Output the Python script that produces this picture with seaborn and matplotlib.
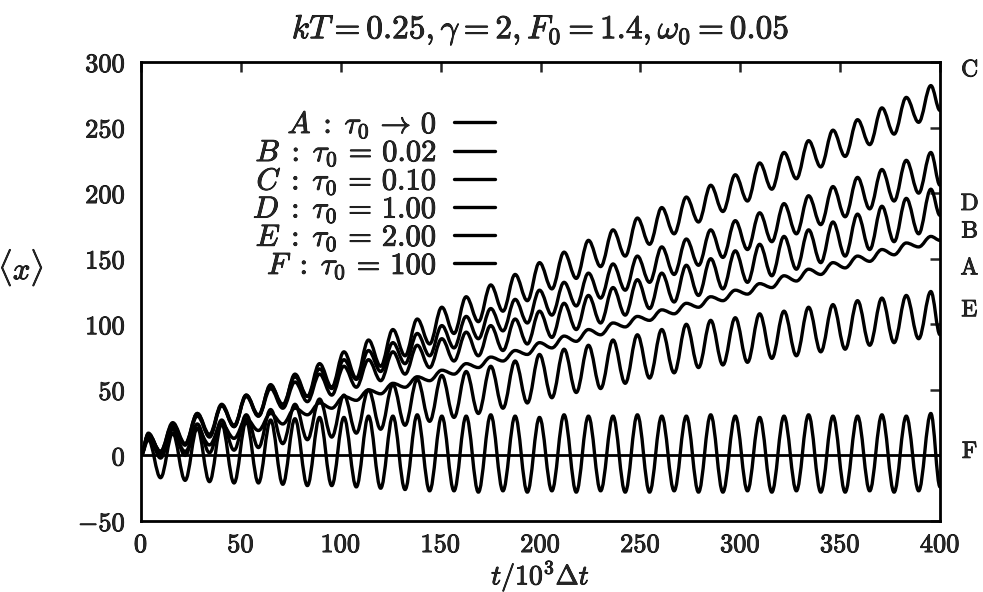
import numpy as np
import pandas as pd
import matplotlib
matplotlib.use("Agg")
import matplotlib.pyplot as plt
from matplotlib.lines import Line2D
from matplotlib.path import Path
from matplotlib.patches import PathPatch
import matplotlib.patheffects as pe
import seaborn as sns

# ---- data ----
curve_names = ["A", "B", "C", "D", "E", "F"]
legend_labels = [r"$A\;:\;\tau_0\,\rightarrow\,0$", r"$B\;:\;\tau_0\,=\,0.02$",
                 r"$C\;:\;\tau_0\,=\,0.10$", r"$D\;:\;\tau_0\,=\,1.00$",
                 r"$E\;:\;\tau_0\,=\,2.00$", r"$F\;:\;\tau_0\,=\,100$"]

# times of the oscillation maxima / minima (t / 10^3 dt)
peak_t = [3.7, 15.9, 28.2, 40.4, 52.7, 64.9, 77.1, 89.4, 101.6, 113.9, 126.1, 138.3,
          150.6, 162.8, 175.1, 187.3, 199.5, 211.8, 224.0, 236.3, 248.5, 260.7, 273.0,
          285.2, 297.5, 309.7, 321.9, 334.2, 346.4, 358.7, 370.9, 383.1, 395.4]
trough_t = [9.8, 22.1, 34.3, 46.6, 58.8, 71.0, 83.3, 95.5, 107.8, 120.0, 132.2, 144.5,
            156.7, 168.9, 181.2, 193.4, 205.7, 217.9, 230.1, 242.4, 254.6, 266.9, 279.1,
            291.3, 303.6, 315.8, 328.1, 340.3, 352.5, 364.8, 377.0, 389.3]
start_t = 0.0
end_t = 400.0

A_peaks = [14, 17, 20, 24, 28, 32, 36, 40, 45, 50, 55, 60, 65, 70, 75, 80, 86, 91, 96, 101,
           106, 111, 116, 121, 126, 131, 137, 142, 147, 152, 157, 162, 167]
A_troughs = [0, 3, 8, 13, 19, 24, 31, 36, 42, 47, 52, 57, 62, 67, 72, 77, 82, 87, 92, 98,
             103, 108, 113, 118, 123, 128, 133, 138, 143, 148, 153, 159]
A_end = 164

B_peaks = [16, 24, 32, 38, 45, 51, 56, 62, 68, 73, 79, 84, 89, 94, 99, 104, 110, 116, 122,
           128, 134, 139, 145, 150, 156, 161, 167, 172, 178, 184, 190, 196, 203]
B_troughs = [3, 8, 14, 22, 30, 36, 41, 46, 52, 57, 62, 67, 72, 76, 80, 85, 90, 96, 101, 107,
             112, 117, 122, 127, 132, 137, 142, 147, 152, 157, 163, 169]
B_end = 183

C_peaks = [17, 22, 30, 38, 46, 54, 62, 70, 79, 88, 96, 104, 113, 121, 130, 138, 147, 155,
           164, 172, 181, 189, 197, 206, 214, 223, 231, 240, 248, 256, 265, 273, 282]
C_troughs = [2, 8, 15, 22, 30, 37, 45, 52, 59, 68, 76, 85, 93, 102, 110, 118, 127, 135, 144,
             152, 161, 169, 178, 186, 194, 203, 211, 220, 228, 237, 245, 254]
C_end = 263

D_peaks = [16, 25, 32, 39, 46, 53, 60, 66, 73, 80, 86, 93, 99, 106, 112, 119, 126, 132, 139,
           146, 152, 159, 165, 172, 179, 185, 192, 198, 205, 212, 218, 225, 231]
D_troughs = [3, 9, 16, 23, 31, 39, 45, 51, 58, 64, 70, 76, 82, 89, 95, 101, 107, 114, 120,
             126, 132, 138, 145, 151, 157, 163, 169, 176, 182, 188, 194, 200]
D_end = 206

E_peaks = [16, 20, 24, 27, 31, 35, 39, 43, 46, 50, 54, 58, 61, 64, 68, 72, 77, 81, 84, 88,
           92, 96, 100, 103, 105, 108, 110, 113, 115, 118, 120, 122, 125]
E_troughs = [-2, 0, 2, 4, 6, 9, 12, 14, 17, 20, 23, 26, 29, 32, 36, 40, 44, 48, 51, 55, 59,
             63, 67, 69, 71, 74, 76, 79, 81, 84, 86, 89]
E_end = 92

F_peaks = [12, 17, 21, 24, 26, 27, 28, 29, 29, 30, 30, 31, 30, 30, 31, 30, 29, 31, 30, 30,
           31, 30, 30, 31, 30, 29, 30, 31, 30, 30, 31, 30, 32]
F_troughs = [-17, -19, -20, -21, -21, -22, -23, -23, -24, -25, -26, -27, -27, -28, -27, -28,
             -27, -28, -27, -28, -28, -27, -28, -28, -27, -28, -27, -28, -28, -27, -28, -27]
F_end = -24

# text labels at the right-hand end of the curves
end_label_names = ["C", "D", "B", "A", "E", "F"]
end_label_y = [294, 192, 171, 143, 111, 3]

xticks = [0, 50, 100, 150, 200, 250, 300, 350, 400]
yticks = [-50, 0, 50, 100, 150, 200, 250, 300]

series = {
    "A": (A_peaks, A_troughs, A_end),
    "B": (B_peaks, B_troughs, B_end),
    "C": (C_peaks, C_troughs, C_end),
    "D": (D_peaks, D_troughs, D_end),
    "E": (E_peaks, E_troughs, E_end),
    "F": (F_peaks, F_troughs, F_end),
}

rows = []
for name in curve_names:
    pk, tr, end = series[name]
    order = 0
    rows.append((name, order, start_t, 0.0)); order += 1
    for i in range(len(peak_t)):
        rows.append((name, order, peak_t[i], pk[i])); order += 1
        if i < len(trough_t):
            rows.append((name, order, trough_t[i], tr[i])); order += 1
    rows.append((name, order, end_t, end))
df = pd.DataFrame(rows, columns=["curve", "order", "t", "x"])

# ---- style ----
sns.set_style("white")
plt.rcParams["mathtext.fontset"] = "cm"
plt.rcParams["font.family"] = ["DejaVu Serif"]
heavy = [pe.withStroke(linewidth=0.6, foreground="black")]

fig = plt.figure(figsize=(9.83, 5.92), dpi=100)
ax = fig.add_axes([0.1434, 0.1199, 0.8129, 0.7754])

LW = 2.4
sns.lineplot(data=df, x="t", y="x", hue="curve", palette=["black"] * 6,
             sort=False, estimator=None, legend=False, linewidth=LW, ax=ax)

# render each extremum-to-extremum step as a smooth (cosine-like) Bezier segment
for line in list(ax.lines):
    xy = line.get_xydata()
    if len(xy) < 3:
        continue
    verts = [tuple(xy[0])]
    codes = [Path.MOVETO]
    for (x0, y0), (x1, y1) in zip(xy[:-1], xy[1:]):
        dx = x1 - x0
        verts += [(x0 + 0.37 * dx, y0), (x1 - 0.37 * dx, y1), (x1, y1)]
        codes += [Path.CURVE4] * 3
    ax.add_patch(PathPatch(Path(verts, codes), facecolor="none",
                           edgecolor=line.get_color(), linewidth=LW,
                           joinstyle="round", capstyle="round"))
    line.remove()

ax.axhline(0, color="black", linewidth=2.0)

ax.set_xlim(0, 400)
ax.set_ylim(-50, 300)
ax.set_xticks(xticks)
ax.set_yticks(yticks)
ax.set_xticklabels([rf"$\mathbf{{{v}}}$" for v in xticks])
ax.set_yticklabels([rf"$\mathbf{{{v}}}$" for v in yticks])
ax.tick_params(direction="in", length=7, width=1.8, top=True, right=True,
               labelsize=19)
ax.tick_params(axis="y", pad=11)
ax.tick_params(axis="x", pad=8)
for lab in ax.get_xticklabels() + ax.get_yticklabels():
    lab.set_path_effects(heavy)
for s in ax.spines.values():
    s.set_linewidth(2.0)
    s.set_color("black")

ttl = ax.set_title(r"$kT=0.25, \gamma=2, F_0=1.4, \omega_0=0.05$", fontsize=24, pad=17)
ttl.set_path_effects(heavy)
ax.set_xlabel(r"$t/10^3\Delta t$", fontsize=20, path_effects=heavy)
ax.xaxis.set_label_coords(0.5, -0.08)
ax.set_ylabel(r"$\langle x\rangle$", fontsize=22, rotation=0, va="center",
              path_effects=heavy)
ax.yaxis.set_label_coords(-0.15, 0.551)

handles = [Line2D([], [], color="black", linewidth=LW) for _ in curve_names]
leg = ax.legend(handles, legend_labels, loc="upper right", bbox_to_anchor=(0.443, 0.898),
                markerfirst=False, frameon=False, fontsize=22, handlelength=1.35,
                handletextpad=0.55, labelspacing=-0.1, borderpad=0, borderaxespad=0)
for t in leg.get_texts():
    t.set_path_effects(heavy)

for name, yv in zip(end_label_names, end_label_y):
    ax.text(415, yv, rf"$\mathrm{{{name}}}$", fontsize=17, va="center", ha="center",
            clip_on=False, path_effects=heavy)

fig.savefig("out.png", dpi=100)
